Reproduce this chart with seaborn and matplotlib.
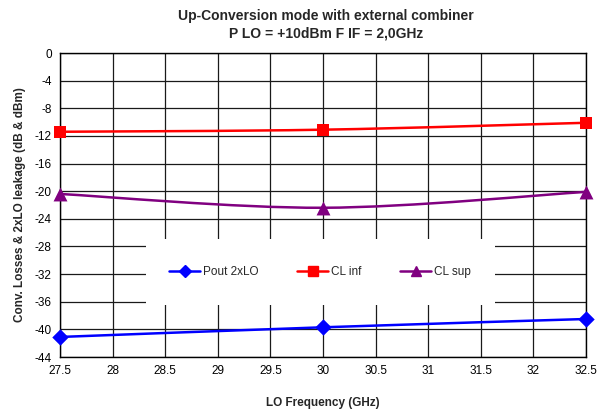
import numpy as np
import pandas as pd
import matplotlib
matplotlib.use("Agg")
import matplotlib.pyplot as plt
from matplotlib.path import Path
from matplotlib.patches import PathPatch, Rectangle
from matplotlib.lines import Line2D
import seaborn as sns

# ---- data ----
freq = [27.5, 30.0, 32.5]
pout_2xlo = [-41.1, -39.7, -38.5]
cl_inf = [-11.4, -11.1, -10.1]
cl_sup = [-20.4, -22.4, -20.1]
series_names = ["Pout 2xLO", "CL inf", "CL sup"]
x_ticks = [27.5, 28, 28.5, 29, 29.5, 30, 30.5, 31, 31.5, 32, 32.5]
y_ticks = list(range(0, -45, -4))

sns.set_theme(style="white")
plt.rcParams["font.family"] = ["Liberation Sans", "DejaVu Sans"]
plt.rcParams["axes.unicode_minus"] = False

W, H = 608, 412
fig = plt.figure(figsize=(W / 100, H / 100), dpi=100)
ax = fig.add_axes([60 / W, 1 - 357 / H, (586 - 60) / W, (357 - 53) / H])

ax.set_xlim(27.5, 32.5)
ax.set_ylim(-44, 0)
ax.set_xticks(x_ticks)
ax.set_xticklabels([("%g" % t) for t in x_ticks])
ax.set_yticks(y_ticks)
ax.set_yticklabels([str(t) for t in y_ticks])
ax.grid(True, color="#1a1a1a", linewidth=0.9)
ax.set_axisbelow(True)
for s in ax.spines.values():
    s.set_color("black")
    s.set_linewidth(1.0)
ax.tick_params(axis="both", labelsize=8.5, colors="black", length=0, pad=6)

# white legend area covering the grid
ax.add_patch(Rectangle((146 / W, 1 - 305 / H), (495 - 146) / W, (305 - 239) / H,
                       transform=fig.transFigure, facecolor="white",
                       edgecolor="none", zorder=1))

colors = ["#0000ff", "#ff0000", "#800080"]
markers = ["D", "s", "^"]
msizes = [70, 85, 100]
data = [pout_2xlo, cl_inf, cl_sup]


def smooth_path(xs, ys):
    # Excel-style smoothed line: cubic Bezier, Catmull-Rom control points
    xr = (32.5 - 27.5) / 526.0
    yr = 44.0 / 304.0
    px = [x / xr for x in xs]
    py = [y / yr for y in ys]
    n = len(px)
    verts = [(xs[0], ys[0])]
    codes = [Path.MOVETO]
    for i in range(n - 1):
        p0 = (px[max(i - 1, 0)], py[max(i - 1, 0)])
        p1 = (px[i], py[i])
        p2 = (px[i + 1], py[i + 1])
        p3 = (px[min(i + 2, n - 1)], py[min(i + 2, n - 1)])
        c1 = (p1[0] + (p2[0] - p0[0]) / 6, p1[1] + (p2[1] - p0[1]) / 6)
        c2 = (p2[0] - (p3[0] - p1[0]) / 6, p2[1] - (p3[1] - p1[1]) / 6)
        for c in (c1, c2, p2):
            verts.append((c[0] * xr, c[1] * yr))
        codes += [Path.CURVE4] * 3
    return Path(verts, codes)


for name, vals, col, mk, ms in zip(series_names, data, colors, markers, msizes):
    ax.add_patch(PathPatch(smooth_path(freq, vals), facecolor="none",
                           edgecolor=col, linewidth=1.8, zorder=3))
    df = pd.DataFrame({"x": freq, "y": vals})
    sns.scatterplot(data=df, x="x", y="y", ax=ax, marker=mk, s=ms, color=col,
                    edgecolor=col, linewidth=0, zorder=4, clip_on=False)

handles = [Line2D([], [], color=c, marker=m, markersize=ms, linewidth=1.8)
           for c, m, ms in zip(colors, markers, [6, 7, 7])]
leg = fig.legend(handles, series_names, loc="center", ncol=3,
                 bbox_to_anchor=(320 / W, 1 - 272 / H), frameon=False,
                 fontsize=8.5, handlelength=2.6, handletextpad=0.25,
                 columnspacing=3.3)

ax.set_xlabel("LO Frequency (GHz)", fontsize=8.5, fontweight="bold", labelpad=14)
ax.set_ylabel("Conv. Losses & 2xLO leakage (dB & dBm)", fontsize=8.5,
              fontweight="bold", labelpad=6)
fig.text(326 / W, 1 - 16 / H, "Up-Conversion mode with external combiner",
         ha="center", va="center", fontsize=10, fontweight="bold")
fig.text(326 / W, 1 - 33 / H, "P LO = +10dBm F IF = 2,0GHz",
         ha="center", va="center", fontsize=10, fontweight="bold")

fig.savefig("out.png", dpi=100, facecolor="white")
